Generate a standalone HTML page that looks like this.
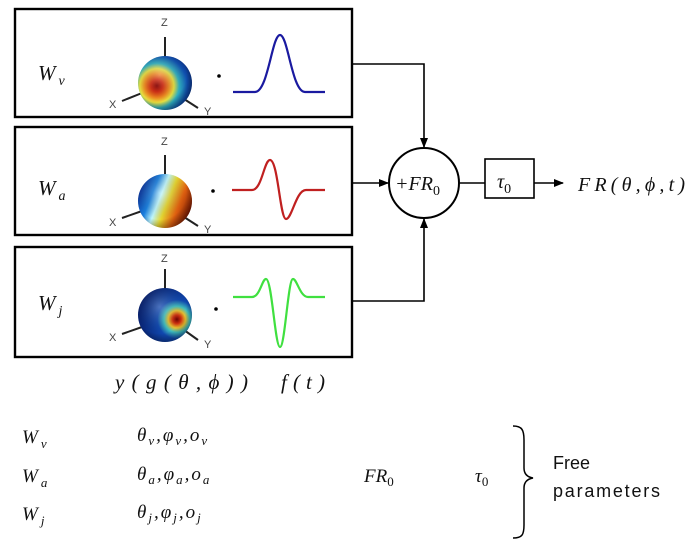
<!DOCTYPE html>
<html><head><meta charset="utf-8"><style>
body{margin:0;background:#fff}
svg{display:block}
.m{font-family:"Liberation Serif",serif;font-style:italic;fill:#111}
.a{font-family:"Liberation Sans",sans-serif;fill:#444;font-size:11px}
</style></head><body>
<svg width="693" height="553" viewBox="0 0 693 553" xmlns="http://www.w3.org/2000/svg">
<defs>
<radialGradient id="g1" cx="0.35" cy="0.55" r="0.75">
<stop offset="0" stop-color="#8b0000"/><stop offset="0.15" stop-color="#d42a10"/><stop offset="0.3" stop-color="#f08a20"/><stop offset="0.42" stop-color="#e8e040"/><stop offset="0.55" stop-color="#30b0c0"/><stop offset="0.75" stop-color="#1050b0"/><stop offset="1" stop-color="#081a60"/>
</radialGradient>
<linearGradient id="g2" x1="0" y1="0.3" x2="1" y2="0.7">
<stop offset="0" stop-color="#0a2a90"/><stop offset="0.25" stop-color="#1a80e0"/><stop offset="0.4" stop-color="#c0f8ff"/><stop offset="0.55" stop-color="#e8d830"/><stop offset="0.75" stop-color="#e06010"/><stop offset="1" stop-color="#701000"/>
</linearGradient>
<radialGradient id="g3" cx="0.72" cy="0.58" r="0.8">
<stop offset="0" stop-color="#700000"/><stop offset="0.1" stop-color="#d03010"/><stop offset="0.2" stop-color="#e8c030"/><stop offset="0.3" stop-color="#40c0c0"/><stop offset="0.45" stop-color="#1048b0"/><stop offset="1" stop-color="#061860"/>
</radialGradient>
<radialGradient id="sh" cx="0.4" cy="0.35" r="0.7">
<stop offset="0" stop-color="#fff" stop-opacity="0.25"/><stop offset="0.7" stop-color="#000" stop-opacity="0"/><stop offset="1" stop-color="#000" stop-opacity="0.35"/>
</radialGradient>
<marker id="ar" markerWidth="10" markerHeight="8" refX="9" refY="4" orient="auto" markerUnits="userSpaceOnUse"><path d="M0,0 L10,4 L0,8z" fill="#000"/></marker>
</defs>
<g fill="none" stroke="#000" stroke-width="2.4">
<rect x="15" y="9" width="337" height="108"/>
<rect x="15" y="127" width="337" height="108"/>
<rect x="15" y="247" width="337" height="110"/>
</g>
<g stroke="#222" stroke-width="2">
<line x1="165" y1="37" x2="165" y2="58"/><line x1="122" y1="101" x2="142" y2="93"/><line x1="184" y1="99" x2="198" y2="108"/>
<line x1="165" y1="155" x2="165" y2="176"/><line x1="122" y1="218" x2="142" y2="211"/><line x1="184" y1="217" x2="198" y2="226"/>
<line x1="165" y1="269" x2="165" y2="290"/><line x1="122" y1="334" x2="142" y2="327"/><line x1="184" y1="330" x2="198" y2="340"/>
</g>
<circle cx="165" cy="83" r="27" fill="url(#g1)"/><circle cx="165" cy="83" r="27" fill="url(#sh)"/>
<circle cx="165" cy="201" r="27" fill="url(#g2)"/><circle cx="165" cy="201" r="27" fill="url(#sh)"/>
<circle cx="165" cy="315" r="27" fill="url(#g3)"/><circle cx="165" cy="315" r="27" fill="url(#sh)"/>
<g class="a">
<text x="161" y="26">Z</text><text x="109" y="108">X</text><text x="204" y="115">Y</text>
<text x="161" y="145">Z</text><text x="109" y="226">X</text><text x="204" y="233">Y</text>
<text x="161" y="262">Z</text><text x="109" y="341">X</text><text x="204" y="348">Y</text>
</g>
<circle cx="219" cy="76" r="1.8" fill="#000"/><circle cx="213" cy="191" r="1.8" fill="#000"/><circle cx="216" cy="309" r="1.8" fill="#000"/>
<g fill="none" stroke-width="2.2">
<path stroke="#1a1aa0" d="M233,92 L255,92 C268,92 272,35 280,35 C288,35 292,92 305,92 L325,92"/>
<path stroke="#c02020" d="M232,190 L252,190 C262,190 264,160 270,160 C278,160 280,219 286,219 C292,219 296,190 306,190 L325,190"/>
<path stroke="#40e040" d="M233,297 L252,297 C260,297 262,279 266,279 C272,279 275,347 280,347 C285,347 288,279 293,279 C297,279 300,297 308,297 L325,297"/>
</g>
<g class="m" font-size="21">
<text x="38" y="80">W<tspan font-size="14" dy="5" dx="3">v</tspan></text>
<text x="38" y="195">W<tspan font-size="14" dy="5" dx="3">a</tspan></text>
<text x="38" y="310">W<tspan font-size="14" dy="5" dx="3">j</tspan></text>
<text x="115" y="389" textLength="133" lengthAdjust="spacing">y(g(θ,ϕ))</text>
<text x="281" y="389" textLength="44" lengthAdjust="spacing">f(t)</text>
</g>
<g fill="none" stroke="#000" stroke-width="1.6">
<path d="M352,64 H424 V147" marker-end="url(#ar)"/>
<path d="M352,183 H388" marker-end="url(#ar)"/>
<path d="M352,301 H424 V219" marker-end="url(#ar)"/>
<circle cx="424" cy="183" r="35" stroke-width="2"/>
<line x1="460" y1="183" x2="485" y2="183"/>
<rect x="485" y="159" width="49" height="39"/>
<path d="M534,183 H563" marker-end="url(#ar)"/>
</g>
<g class="m" font-size="20">
<text x="395" y="190">+FR<tspan font-size="14" dy="5" font-style="normal">0</tspan></text>
<text x="497" y="188">τ<tspan font-size="14" dy="5" font-style="normal">0</tspan></text>
<text x="578" y="191" textLength="107" lengthAdjust="spacing">FR(θ,ϕ,t)</text>
</g>
<g class="m" font-size="19">
<text x="22" y="443">W<tspan font-size="13" dy="5" dx="3">v</tspan></text>
<text x="22" y="482">W<tspan font-size="13" dy="5" dx="3">a</tspan></text>
<text x="22" y="520">W<tspan font-size="13" dy="5" dx="3">j</tspan></text>
<text x="137" y="441" letter-spacing="2">θ<tspan font-size="13" dy="4">v</tspan><tspan dy="-4">,φ</tspan><tspan font-size="13" dy="4">v</tspan><tspan dy="-4">,o</tspan><tspan font-size="13" dy="4">v</tspan></text>
<text x="137" y="480" letter-spacing="2">θ<tspan font-size="13" dy="4">a</tspan><tspan dy="-4">,φ</tspan><tspan font-size="13" dy="4">a</tspan><tspan dy="-4">,o</tspan><tspan font-size="13" dy="4">a</tspan></text>
<text x="137" y="518" letter-spacing="2">θ<tspan font-size="13" dy="4">j</tspan><tspan dy="-4">,φ</tspan><tspan font-size="13" dy="4">j</tspan><tspan dy="-4">,o</tspan><tspan font-size="13" dy="4">j</tspan></text>
<text x="364" y="482">FR<tspan font-size="13" dy="4" font-style="normal">0</tspan></text>
<text x="475" y="482">τ<tspan font-size="13" dy="4" font-style="normal">0</tspan></text>
</g>
<path d="M513,426 C522,426 524,430 524,440 V468 C524,474 527,477 533,478 C527,479 524,482 524,488 V525 C524,535 522,538 513,538" fill="none" stroke="#000" stroke-width="1.5"/>
<g font-family="Liberation Sans,sans-serif" font-size="18" fill="#111">
<text x="553" y="469">Free</text><text x="553" y="497" textLength="107" lengthAdjust="spacing">parameters</text>
</g>
</svg>
</body></html>
